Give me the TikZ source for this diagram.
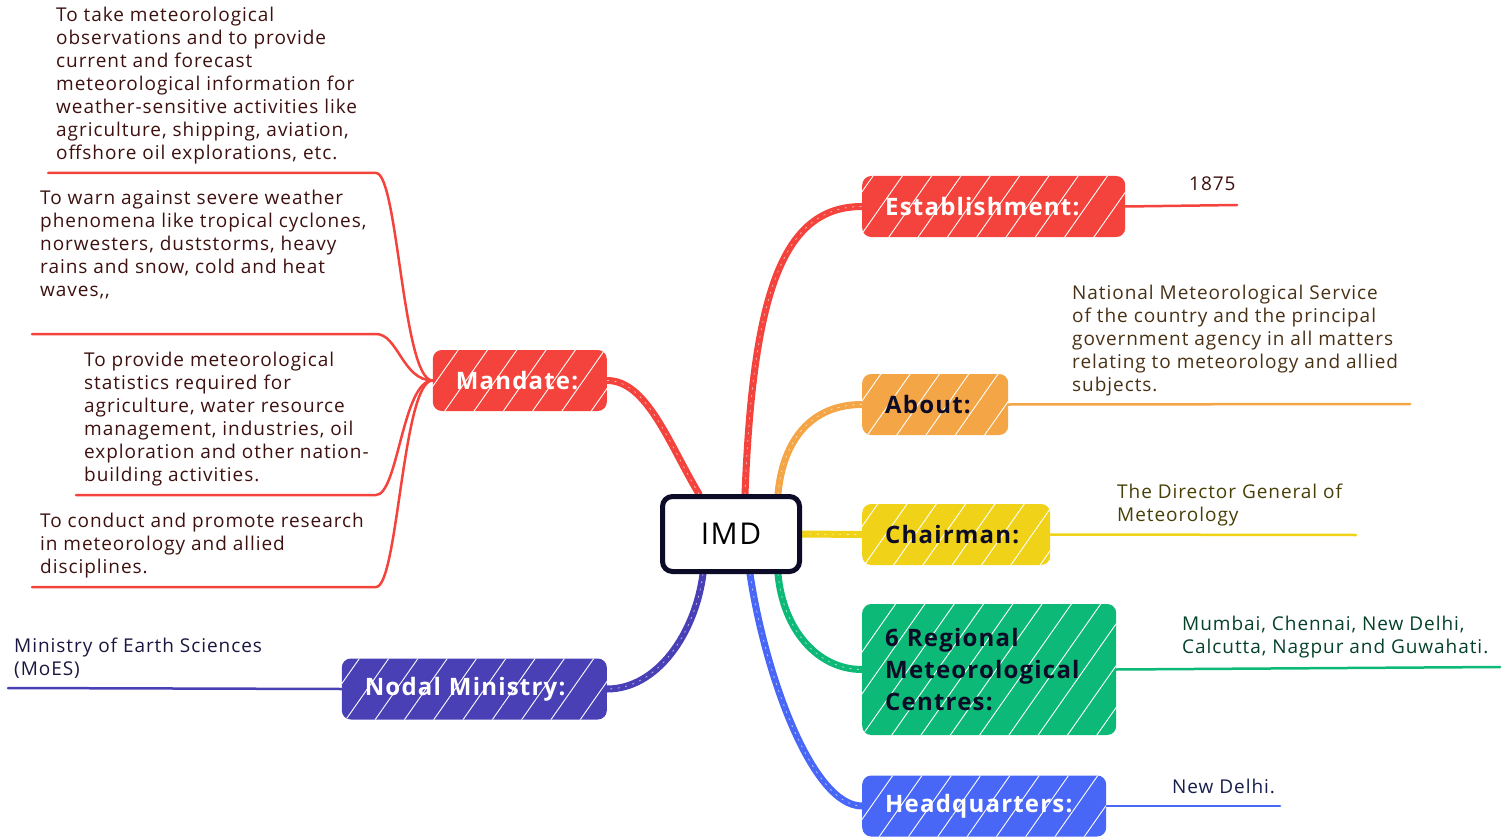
\documentclass[tikz,border=0pt]{standalone}
\usepackage{fontspec}
\setmainfont[LetterSpace=5]{Open Sans}
\usepackage{tikz}
\usetikzlibrary{backgrounds}
\usetikzlibrary{patterns.meta}

\definecolor{imdRed}{RGB}{244,67,60}
\definecolor{imdOrange}{RGB}{244,165,70}
\definecolor{imdYellow}{RGB}{240,211,24}
\definecolor{imdGreen}{RGB}{13,185,118}
\definecolor{imdIndigo}{RGB}{74,64,182}
\definecolor{imdBlue}{RGB}{72,103,247}
\definecolor{imdInk}{RGB}{12,12,40}

\begin{document}
\begin{tikzpicture}[
        x=1pt, y=-1pt,
        topic/.style={rounded corners=9pt, minimum height=61pt, inner xsep=23pt, align=left, anchor=west,
            text width=#1, font=\fontsize{24}{32}\selectfont\bfseries},
        hatch/.style={fill=#1, postaction={pattern color=white, pattern={Lines[angle=55,distance=24pt,line width=0.9pt]}}},
        branch/.style={draw=#1, line width=7pt, line cap=round,
            postaction={draw=white, draw opacity=0.6, line width=0.8pt, dash pattern=on 1.5pt off 6pt}},
        leafline/.style={draw=#1, line width=2.5pt, line cap=round},
        leaf/.style={align=left, anchor=north west, inner sep=0pt, font=\fontsize{19}{23}\selectfont}
    ]
        \useasboundingbox (0,0) rectangle (1512,837);

        % Central topic
        \node[draw=imdInk, line width=5pt, rounded corners=10pt, fill=white, minimum width=137pt, minimum height=75pt,
            font=\fontsize{30}{36}\selectfont] (imd) at (731,534) {IMD};

        % Main topics
        \node[topic=217pt, hatch=imdRed, text=white] (est) at (862,206.5) {Establishment:};
        \node[topic=100pt, hatch=imdOrange, text=imdInk] (about) at (862,404.5) {About:};
        \node[topic=142pt, hatch=imdYellow, text=imdInk] (chair) at (862,534.5) {Chairman:};
        \node[topic=208pt, hatch=imdGreen, text=imdInk, minimum height=131pt] (rmc) at (862,669.5)
            {6~Regional\\Meteorological\\Centres:};
        \node[topic=198pt, hatch=imdBlue, text=white] (hq) at (862,806) {Headquarters:};
        \node[topic=128pt, hatch=imdRed, text=white, anchor=east] (mandate) at (607,380.5) {Mandate:};
        \node[topic=219pt, hatch=imdIndigo, text=white, anchor=east] (nodal) at (607,689) {Nodal~Ministry:};

        % Leaf texts
        \node[leaf, text=imdRed!25!black] (mandA) at (56,7) {To take meteorological\\observations and to provide\\current and forecast\\meteorological information for\\weather-sensitive activities like\\agriculture, shipping, aviation,\\offshore oil explorations, etc.};
        \node[leaf, text=imdRed!25!black] (mandB) at (40,190) {To warn against severe weather\\phenomena like tropical cyclones,\\norwesters, duststorms, heavy\\rains and snow, cold and heat\\waves,{},};
        \node[leaf, text=imdRed!25!black] (mandC) at (84,352) {To provide meteorological\\statistics required for\\agriculture, water resource\\management, industries, oil\\exploration and other nation-\\building activities.};
        \node[leaf, text=imdRed!25!black] (mandD) at (40,513) {To conduct and promote research\\in meteorology and allied\\disciplines.};
        \node[leaf, text=imdRed!25!black] (estText) at (1189,177) {1875};
        \node[leaf, text=imdOrange!30!black] (aboutText) at (1072,285) {National Meteorological Service\\of the country and the principal\\government agency in all matters\\relating to meteorology and allied\\subjects.};
        \node[leaf, text=imdYellow!30!black] (chairText) at (1117,484) {The Director General of\\Meteorology};
        \node[leaf, text=imdGreen!35!black] (rmcText) at (1182,616) {Mumbai, Chennai, New Delhi,\\Calcutta, Nagpur and Guwahati.};
        \node[leaf, text=imdBlue!30!black] (hqText) at (1172,779) {New Delhi.};
        \node[leaf, text=imdIndigo!35!black] (nodalText) at (14,638) {Ministry of Earth Sciences\\(MoES)};

        % Ends of the underlines
        \coordinate (mandAr) at (376,173);  \coordinate (mandAl) at (48,173);
        \coordinate (mandBr) at (376,334);  \coordinate (mandBl) at (32,334);
        \coordinate (mandCr) at (376,495);  \coordinate (mandCl) at (76,495);
        \coordinate (mandDr) at (376,587);  \coordinate (mandDl) at (32,587);
        \coordinate (estEnd) at (1237,205);
        \coordinate (aboutEnd) at (1410,404);
        \coordinate (chairEnd) at (1356,535);
        \coordinate (rmcEnd) at (1500,667);
        \coordinate (hqEnd) at (1280,806);
        \coordinate (nodalEnd) at (8,688);

        \begin{scope}[on background layer]
            % Branches from the centre
            \draw[branch=imdRed] ([xshift=-32pt]imd.north) .. controls +(-30,-50) and +(40,0) .. (mandate.east);
            \draw[branch=imdRed] ([xshift=14pt]imd.north) .. controls +(8,-200) and +(-80,0) .. (est.west);
            \draw[branch=imdOrange] ([xshift=47pt]imd.north) .. controls +(5,-55) and +(-50,0) .. (about.west);
            \draw[branch=imdYellow] (imd.east) -- (chair.west);
            \draw[branch=imdGreen] ([xshift=47pt]imd.south) .. controls +(5,55) and +(-45,0) .. (rmc.west);
            \draw[branch=imdBlue] ([xshift=19pt]imd.south) .. controls +(15,100) and +(-50,0) .. (hq.west);
            \draw[branch=imdIndigo] ([xshift=-28pt]imd.south) .. controls +(-8,60) and +(50,0) .. (nodal.east);

            % Underlines of the leaves
            \draw[leafline=imdRed] (mandate.west) .. controls +(-30,0) and +(22,0) .. (mandAr) -- (mandAl);
            \draw[leafline=imdRed] (mandate.west) .. controls +(-30,0) and +(22,0) .. (mandBr) -- (mandBl);
            \draw[leafline=imdRed] (mandate.west) .. controls +(-30,0) and +(22,0) .. (mandCr) -- (mandCl);
            \draw[leafline=imdRed] (mandate.west) .. controls +(-30,0) and +(22,0) .. (mandDr) -- (mandDl);
            \draw[leafline=imdRed] (est.east) -- (estEnd);
            \draw[leafline=imdOrange] (about.east) -- (aboutEnd);
            \draw[leafline=imdYellow] (chair.east) -- (chairEnd);
            \draw[leafline=imdGreen] (rmc.east) -- (rmcEnd);
            \draw[leafline=imdBlue] (hq.east) -- (hqEnd);
            \draw[leafline=imdIndigo] (nodal.west) -- (nodalEnd);
        \end{scope}
    \end{tikzpicture}
\end{document}
